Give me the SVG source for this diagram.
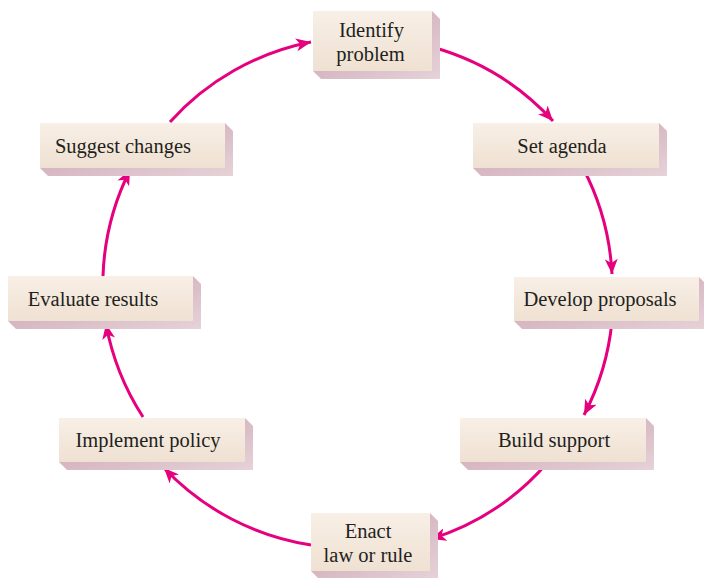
<svg xmlns="http://www.w3.org/2000/svg" width="704" height="578" viewBox="0 0 704 578">
<style>
.box{fill:url(#bg)}
.sh{fill:url(#sg)}
.lbl{font-family:"Liberation Serif","Times New Roman",serif;font-size:20.5px;fill:#231f20;text-anchor:middle}
.arr{fill:none;stroke:#e6007e;stroke-width:3;marker-end:url(#ah)}
</style>
<defs>
<linearGradient id="bg" x1="0" y1="0" x2="0" y2="1">
<stop offset="0" stop-color="#f8efe6"/>
<stop offset="1" stop-color="#efe1d2"/>
</linearGradient>
<linearGradient id="sg" x1="0" y1="0" x2="1" y2="1">
<stop offset="0" stop-color="#c9a0ae"/>
<stop offset="1" stop-color="#e6d2d8"/>
</linearGradient>
<marker id="ah" markerUnits="userSpaceOnUse" markerWidth="16" markerHeight="13" refX="15" refY="6.5" orient="auto">
<path d="M0,0 L15,6.5 L0,13 L4,6.5 z" fill="#e6007e"/>
</marker>
</defs>
<rect width="704" height="578" fill="#ffffff"/>
<g id="connectors">
<path class="arr" d="M170,122 A256,256 0 0 1 311,42"/>
<path class="arr" d="M432,47 A256,256 0 0 1 553,121"/>
<path class="arr" d="M583,168 A256,256 0 0 1 612,274"/>
<path class="arr" d="M612,321 A256,256 0 0 1 584,415"/>
<path class="arr" d="M548,462 A256,256 0 0 1 431,539"/>
<path class="arr" d="M311,545 A256,256 0 0 1 164,468"/>
<path class="arr" d="M143,417 A256,256 0 0 1 106,324"/>
<path class="arr" d="M103,276 A256,256 0 0 1 130,170"/>
</g>
<g id="identify">
<polygon class="sh" points="432,11 440,19 440,79 321,79 313,71 432,71"/>
<rect class="box" x="313" y="11" width="119" height="60"/>
<text class="lbl" x="371.5" y="37">Identify</text>
<text class="lbl" x="370.5" y="61">problem</text>
</g>
<g id="agenda">
<polygon class="sh" points="659,123 667,131 667,176 481,176 473,168 659,168"/>
<rect class="box" x="473" y="123" width="186" height="45"/>
<text class="lbl" x="562" y="153">Set agenda</text>
</g>
<g id="develop">
<polygon class="sh" points="699,277 707,285 707,329 522,329 514,321 699,321"/>
<rect class="box" x="514" y="277" width="185" height="44"/>
<text class="lbl" x="600" y="306">Develop proposals</text>
</g>
<g id="build">
<polygon class="sh" points="646,418 654,426 654,470 468,470 460,462 646,462"/>
<rect class="box" x="460" y="418" width="186" height="44"/>
<text class="lbl" x="554" y="447">Build support</text>
</g>
<g id="enact">
<polygon class="sh" points="430,513 438,521 438,579 319,579 311,571 430,571"/>
<rect class="box" x="311" y="513" width="119" height="58"/>
<text class="lbl" x="368" y="538">Enact</text>
<text class="lbl" x="368" y="562">law or rule</text>
</g>
<g id="implement">
<polygon class="sh" points="245,418 253,426 253,470 67,470 59,462 245,462"/>
<rect class="box" x="59" y="418" width="186" height="44"/>
<text class="lbl" x="148" y="447">Implement policy</text>
</g>
<g id="evaluate">
<polygon class="sh" points="193,276 201,284 201,329 16,329 8,321 193,321"/>
<rect class="box" x="8" y="276" width="185" height="45"/>
<text class="lbl" x="93" y="306">Evaluate results</text>
</g>
<g id="suggest">
<polygon class="sh" points="225,123 233,131 233,176 48,176 40,168 225,168"/>
<rect class="box" x="40" y="123" width="185" height="45"/>
<text class="lbl" x="123" y="153">Suggest changes</text>
</g>
</svg>
